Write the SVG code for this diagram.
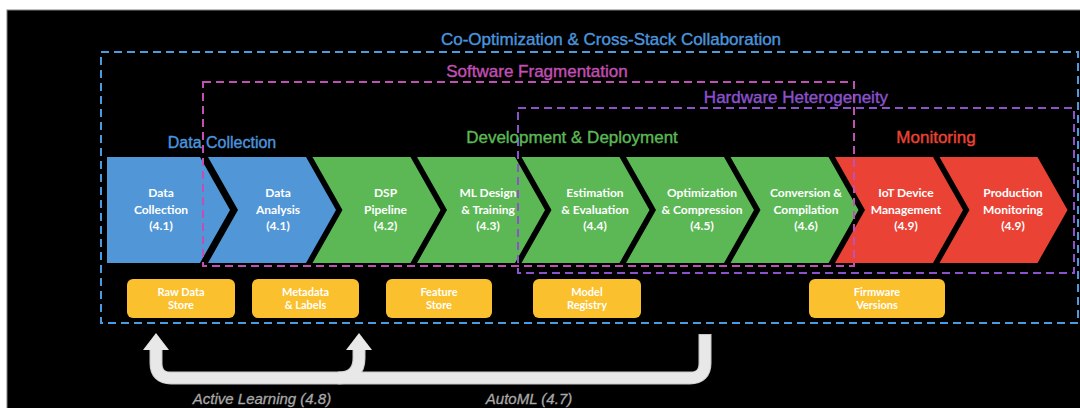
<svg xmlns="http://www.w3.org/2000/svg" width="1080" height="408" viewBox="0 0 1080 408">
<style>
.hdr{font-family:"Liberation Sans",Arial,sans-serif;font-size:17px;text-anchor:middle;stroke-width:0.4}
.ct{font-family:Lato,"Open Sans",sans-serif;font-weight:700;font-size:12px;fill:#ffffff;text-anchor:middle}
.yt{font-family:Lato,"Open Sans",sans-serif;font-weight:700;font-size:11px;fill:#ffffff;text-anchor:middle}
.blue{fill:#5197d8}
.green{fill:#5cb855}
.red{fill:#ea4335}
.ybox{fill:#fbc02d}
.dash{fill:none;stroke-width:2;stroke-dasharray:8 5}
.lbl{font-family:"Liberation Sans",Arial,sans-serif;font-style:italic;font-size:15px;fill:#a8a8a8;text-anchor:middle;stroke:#a8a8a8;stroke-width:0.3}
</style>
<rect x="0" y="0" width="1080" height="408" fill="#ffffff"/>
<rect x="7" y="10" width="1074" height="399" fill="#000000" stroke="#808080" stroke-width="1"/>

<g id="chev1"><path class="blue" d="M107,157 L200,157 L230,210 L200,263 L107,263 Z"/>
<text class="ct" x="161" y="197">Data</text><text class="ct" x="161" y="214">Collection</text><text class="ct" x="161" y="230">(4.1)</text></g>
<g id="chev2"><path class="blue" d="M208,157 L306,157 L336,210 L306,263 L208,263 L238,210 Z"/>
<text class="ct" x="278" y="197">Data</text><text class="ct" x="278" y="214">Analysis</text><text class="ct" x="278" y="230">(4.1)</text></g>
<g id="chev3"><path class="green" d="M312.5,157 L410.5,157 L440.5,210 L410.5,263 L312.5,263 L342.5,210 Z"/>
<text class="ct" x="385.5" y="197">DSP</text><text class="ct" x="385.5" y="214">Pipeline</text><text class="ct" x="385.5" y="230">(4.2)</text></g>
<g id="chev4"><path class="green" d="M417,157 L515,157 L545,210 L515,263 L417,263 L447,210 Z"/>
<text class="ct" x="488" y="197">ML Design</text><text class="ct" x="488" y="214">&amp; Training</text><text class="ct" x="488" y="230">(4.3)</text></g>
<g id="chev5"><path class="green" d="M521.5,157 L619.5,157 L649.5,210 L619.5,263 L521.5,263 L551.5,210 Z"/>
<text class="ct" x="595" y="197">Estimation</text><text class="ct" x="595" y="214">&amp; Evaluation</text><text class="ct" x="595" y="230">(4.4)</text></g>
<g id="chev6"><path class="green" d="M626,157 L724,157 L754,210 L724,263 L626,263 L656,210 Z"/>
<text class="ct" x="702" y="197">Optimization</text><text class="ct" x="702" y="214">&amp; Compression</text><text class="ct" x="702" y="230">(4.5)</text></g>
<g id="chev7"><path class="green" d="M730.5,157 L828.5,157 L858.5,210 L828.5,263 L730.5,263 L760.5,210 Z"/>
<text class="ct" x="806" y="197">Conversion &amp;</text><text class="ct" x="806" y="214">Compilation</text><text class="ct" x="806" y="230">(4.6)</text></g>
<g id="chev8"><path class="red" d="M835,157 L933,157 L963,210 L933,263 L835,263 L865,210 Z"/>
<text class="ct" x="906" y="197">IoT Device</text><text class="ct" x="906" y="214">Management</text><text class="ct" x="906" y="230">(4.9)</text></g>
<g id="chev9"><path class="red" d="M939.5,157 L1037.5,157 L1067.5,210 L1037.5,263 L939.5,263 L969.5,210 Z"/>
<text class="ct" x="1013" y="197">Production</text><text class="ct" x="1013" y="214">Monitoring</text><text class="ct" x="1013" y="230">(4.9)</text></g>

<g id="store1"><rect class="ybox" x="127" y="279" width="108" height="39" rx="6"/>
<text class="yt" x="181" y="296">Raw Data</text><text class="yt" x="181" y="309">Store</text></g>
<g id="store2"><rect class="ybox" x="252" y="279" width="107" height="39" rx="6"/>
<text class="yt" x="305.5" y="296">Metadata</text><text class="yt" x="305.5" y="309">&amp; Labels</text></g>
<g id="store3"><rect class="ybox" x="386" y="279" width="106" height="39" rx="6"/>
<text class="yt" x="439" y="296">Feature</text><text class="yt" x="439" y="309">Store</text></g>
<g id="store4"><rect class="ybox" x="533" y="279" width="108" height="39" rx="6"/>
<text class="yt" x="587" y="296">Model</text><text class="yt" x="587" y="309">Registry</text></g>
<g id="store5"><rect class="ybox" x="809" y="279" width="136" height="39" rx="6"/>
<text class="yt" x="877" y="296">Firmware</text><text class="yt" x="877" y="309">Versions</text></g>

<g id="connectors">
<g fill="none" stroke="#c8c8c8" stroke-width="13" stroke-linejoin="round">
<path d="M705,334 L705,363 Q705,378 690,378 L171,378 Q156,378 156,363 L156,349"/>
<path d="M338,378 Q359,378 359,358 L359,349"/>
</g>
<g fill="none" stroke="#e8e8e8" stroke-width="11" stroke-linejoin="round">
<path d="M705,335 L705,363 Q705,378 690,378 L171,378 Q156,378 156,363 L156,349"/>
<path d="M338,378 Q359,378 359,358 L359,349"/>
</g>
<polygon points="156,333 143,350 169,350" fill="#e8e8e8"/>
<polygon points="359,333 346,350 372,350" fill="#e8e8e8"/>
<text class="lbl" x="262" y="404">Active Learning (4.8)</text>
<text class="lbl" x="529" y="404">AutoML (4.7)</text>
</g>

<g id="zones">
<rect class="dash" x="101" y="52" width="977" height="271" stroke="#4b9be0"/>
<rect class="dash" x="203" y="82" width="651" height="184" stroke="#c24fb4"/>
<rect class="dash" x="518" y="108" width="556" height="165" stroke="#8c52cc"/>
<text class="hdr" x="611" y="45" fill="#4b94dc" stroke="#4b94dc">Co-Optimization &amp; Cross-Stack Collaboration</text>
<text class="hdr" x="537" y="77" fill="#c24fb4" stroke="#c24fb4">Software Fragmentation</text>
<text class="hdr" x="796" y="103" fill="#8c52cc" stroke="#8c52cc">Hardware Heterogeneity</text>
<text class="hdr" x="222" y="148" fill="#4b94dc" stroke="#4b94dc" style="font-size:16px">Data Collection</text>
<text class="hdr" x="572" y="143" fill="#5cb855" stroke="#5cb855">Development &amp; Deployment</text>
<text class="hdr" x="936" y="143" fill="#ea4335" stroke="#ea4335">Monitoring</text>
</g>
</svg>
